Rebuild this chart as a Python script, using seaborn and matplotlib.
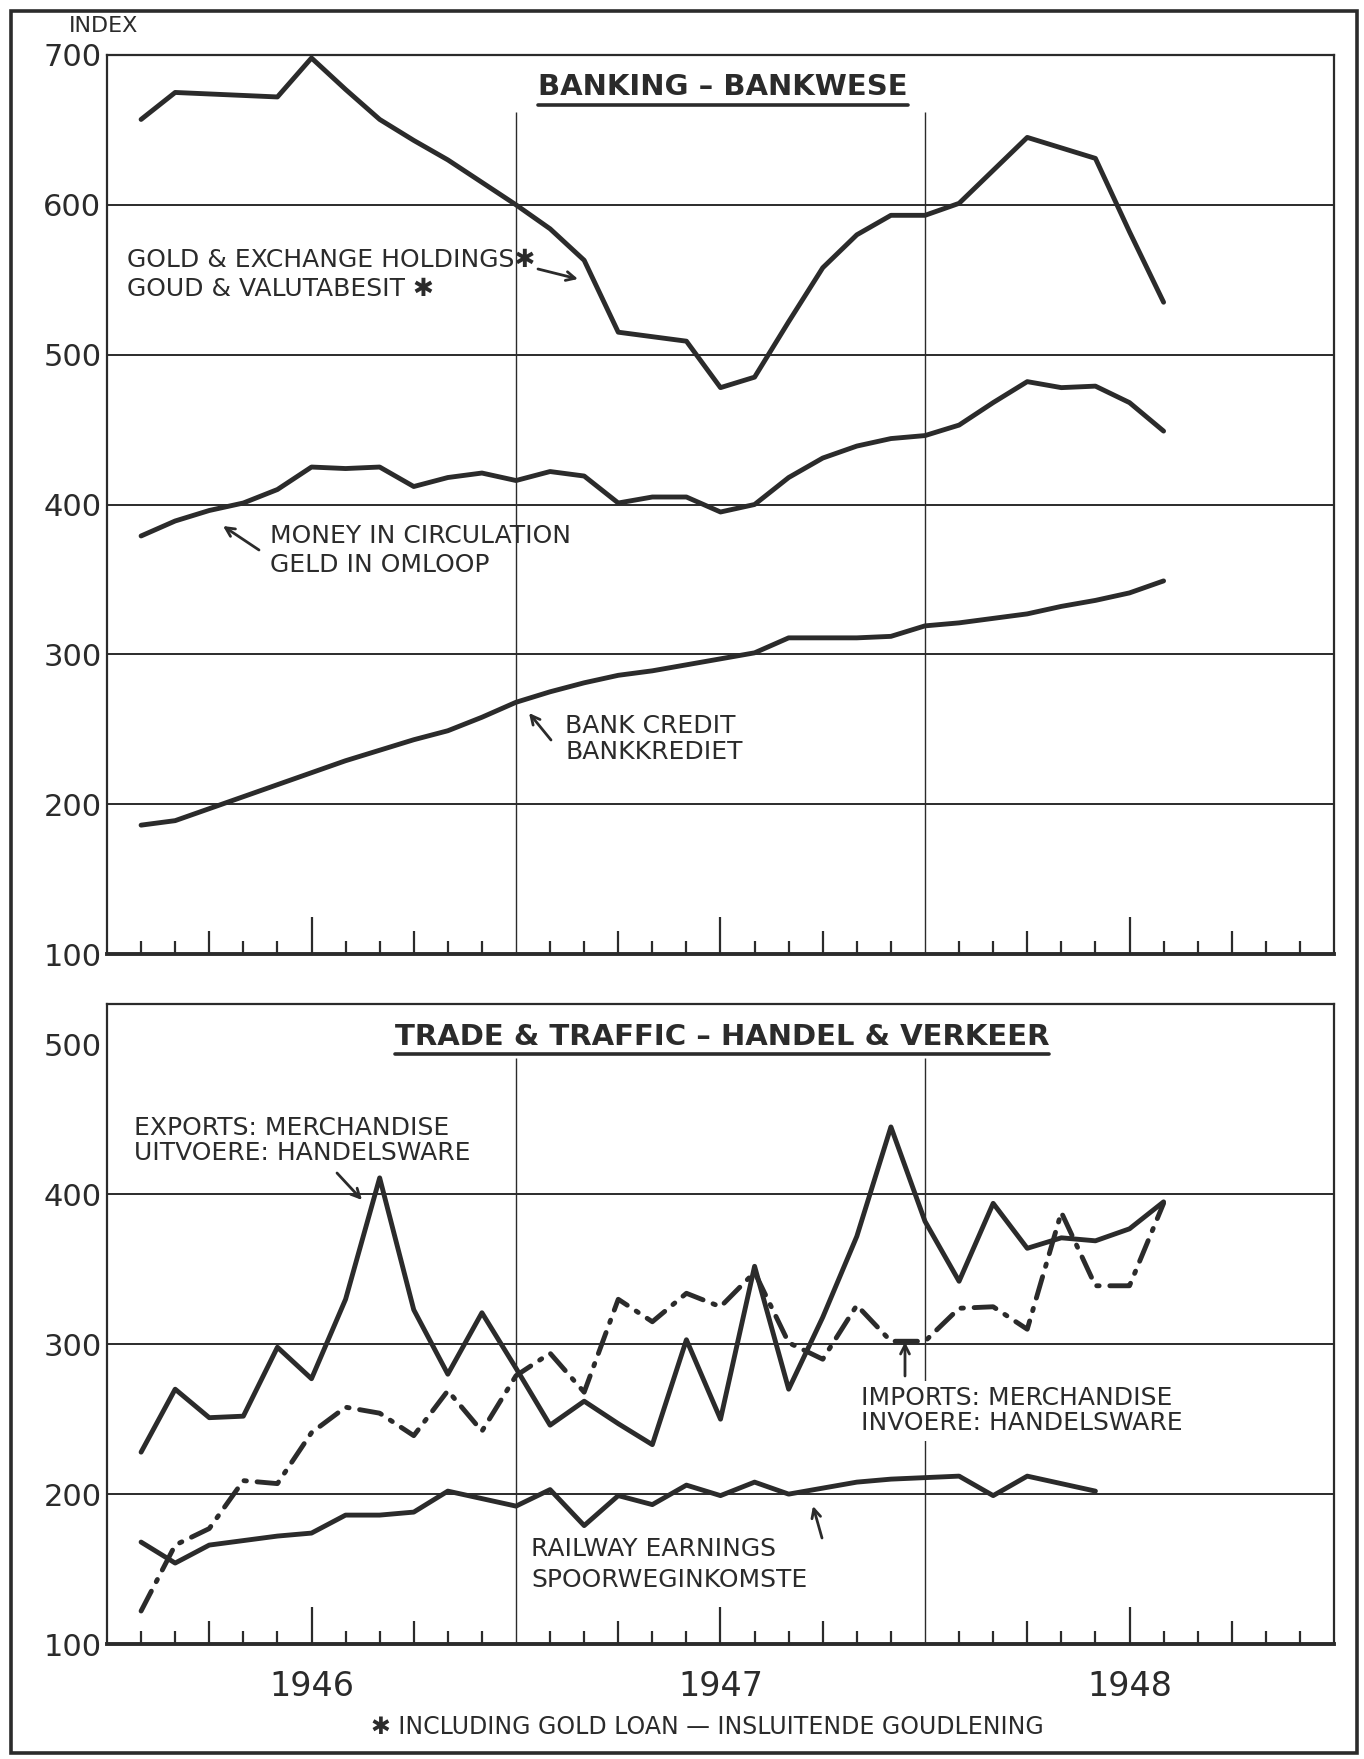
import seaborn as sns
import matplotlib.pyplot as plt
import pandas as pd
from matplotlib.ticker import FixedLocator, NullFormatter
from matplotlib.lines import Line2D
from matplotlib.patches import Rectangle, FancyArrowPatch

# month index: 0 = start of 1946, 12 = start of 1947, 24 = start of 1948
months_bank = list(range(1, 32))
gold_exchange = [657, 675, 674, 673, 672, 698, 677, 657, 643, 630, 615, 600, 584, 563, 515, 512,
                 509, 478, 485, 522, 558, 580, 593, 593, 601, 623, 645, 638, 631, 582, 535]
money_circulation = [379, 389, 396, 401, 410, 425, 424, 425, 412, 418, 421, 416, 422, 419, 401, 405,
                     405, 395, 400, 418, 431, 439, 444, 446, 453, 468, 482, 478, 479, 468, 449]
bank_credit = [186, 189, 197, 205, 213, 221, 229, 236, 243, 249, 258, 268, 275, 281, 286, 289,
               293, 297, 301, 311, 311, 311, 312, 319, 321, 324, 327, 332, 336, 341, 349]

months_trade = list(range(1, 32))
exports = [228, 270, 251, 252, 298, 277, 330, 411, 323, 280, 321, 284, 246, 262, 247, 233,
           303, 250, 352, 270, 318, 372, 445, 382, 342, 394, 364, 371, 369, 377, 395]
imports = [122, 166, 177, 209, 207, 241, 258, 254, 239, 269, 242, 279, 294, 268, 330, 315,
           334, 325, 348, 301, 290, 326, 302, 302, 324, 325, 310, 388, 339, 339, 394]
months_rail = list(range(1, 30))
railway = [168, 154, 166, 169, 172, 174, 186, 186, 188, 202, 197, 192, 203, 179, 199, 193,
           206, 199, 208, 200, 204, 208, 210, 211, 212, 199, 212, 207, 202]

year_labels = ["1946", "1947", "1948"]
year_mid = [6, 18, 30]
year_breaks = [12, 24]
quarter_ticks = [3, 9, 15, 21, 27, 33]
month_ticks = [m for m in range(1, 36) if m % 3]

W, H = 1364, 1759
ink = "#2b2b2b"


def fx(px):
    return px / W


def fy(py):
    return 1 - py / H


def box(left, top, right, bottom):
    return [left / W, 1 - bottom / H, (right - left) / W, (bottom - top) / H]


def style_axis(ax, labels):
    ax.set_xlim(0, 36)
    ax.set_xlabel("")
    ax.set_ylabel("")
    ax.xaxis.set_major_locator(FixedLocator(quarter_ticks))
    ax.xaxis.set_minor_locator(FixedLocator(month_ticks))
    ax.xaxis.set_major_formatter(NullFormatter())
    ax.tick_params(axis='x', which='major', direction='in', length=16.5, width=1.6,
                   color=ink, bottom=True, top=False)
    ax.tick_params(axis='x', which='minor', direction='in', length=9.4, width=1.6,
                   color=ink, bottom=True, top=False)
    ax.tick_params(axis='y', which='major', length=0, pad=4, labelsize=22, labelcolor=ink)
    for side in ['left', 'top', 'right']:
        ax.spines[side].set_linewidth(1.6)
        ax.spines[side].set_color(ink)
    ax.spines['bottom'].set_linewidth(2.8)
    ax.spines['bottom'].set_color(ink)

    sec = ax.secondary_xaxis('bottom')
    sec.set_xticks(year_mid)
    sec.set_xticklabels(labels, fontsize=24, color=ink)
    sec.tick_params(axis='x', direction='in', length=26.6, width=1.6, color=ink, pad=19)
    sec.spines['bottom'].set_visible(False)


sns.set_style("white")
plt.rcParams['font.family'] = 'DejaVu Sans'

fig = plt.figure(figsize=(W / 100, H / 100), dpi=100)
ax1 = fig.add_axes(box(107, 55, 1334, 954))
ax2 = fig.add_axes(box(107, 1004, 1334, 1644))

line_w = 3.5

# --- Banking panel ---
bank_df = pd.DataFrame({"month": months_bank, "gold": gold_exchange,
                        "money": money_circulation, "credit": bank_credit})
for col in ["gold", "money", "credit"]:
    sns.lineplot(data=bank_df, x="month", y=col, ax=ax1, color=ink, lw=line_w,
                 errorbar=None, legend=False)

ax1.set_ylim(100, 700)
ax1.set_yticks([100, 200, 300, 400, 500, 600, 700])
for v in [200, 300, 400, 500, 600]:
    ax1.axhline(v, color=ink, lw=1.4, zorder=0)
ax1.vlines(year_breaks, 100, 662, color=ink, lw=1.0, zorder=0)
style_axis(ax1, [])

# --- Trade panel ---
trade_df = pd.DataFrame({"month": months_trade, "exports": exports, "imports": imports})
rail_df = pd.DataFrame({"month": months_rail, "railway": railway})
sns.lineplot(data=trade_df, x="month", y="exports", ax=ax2, color=ink, lw=line_w,
             errorbar=None, legend=False)
sns.lineplot(data=trade_df, x="month", y="imports", ax=ax2, color=ink, lw=line_w,
             linestyle=(0, (4.6, 2.2, 0.5, 2.2)), dash_capstyle='round',
             errorbar=None, legend=False)
sns.lineplot(data=rail_df, x="month", y="railway", ax=ax2, color=ink, lw=line_w,
             errorbar=None, legend=False)

ax2.set_ylim(100, 527)
ax2.set_yticks([100, 200, 300, 400, 500])
for v in [200, 300, 400]:
    ax2.axhline(v, color=ink, lw=1.4, zorder=0)
ax2.vlines(year_breaks, 100, 491, color=ink, lw=1.0, zorder=0)
ax2.yaxis.set_minor_locator(FixedLocator([500]))
ax2.tick_params(axis='y', which='minor', direction='in', length=24, width=1.6,
                color=ink, left=True, right=True)
style_axis(ax2, year_labels)

# --- Texts ---
fig.text(fx(69), fy(26), "INDEX", fontsize=16, color=ink, va='center', ha='left')

t1 = fig.text(fx(723), fy(87), "BANKING – BANKWESE", fontsize=21, fontweight='bold',
              color=ink, ha='center', va='center')
t2 = fig.text(fx(722), fy(1037), "TRADE & TRAFFIC – HANDEL & VERKEER", fontsize=21,
              fontweight='bold', color=ink, ha='center', va='center')

label_kw = dict(fontsize=18, color=ink, ha='left', va='center')
fig.text(fx(127), fy(260), "GOLD & EXCHANGE HOLDINGS✱", **label_kw)
fig.text(fx(127), fy(289), "GOUD & VALUTABESIT ✱", **label_kw)
fig.text(fx(270), fy(536), "MONEY IN CIRCULATION", **label_kw)
fig.text(fx(270), fy(565), "GELD IN OMLOOP", **label_kw)
fig.text(fx(565), fy(726), "BANK CREDIT", **label_kw)
fig.text(fx(565), fy(752), "BANKKREDIET", **label_kw)
fig.text(fx(134), fy(1128), "EXPORTS: MERCHANDISE", **label_kw)
fig.text(fx(134), fy(1153), "UITVOERE: HANDELSWARE", **label_kw)
white = dict(facecolor='white', edgecolor='none', pad=4)
fig.text(fx(861), fy(1398), "IMPORTS: MERCHANDISE", bbox=white, **label_kw)
fig.text(fx(861), fy(1423), "INVOERE: HANDELSWARE", bbox=white, **label_kw)
fig.text(fx(531), fy(1549), "RAILWAY EARNINGS", **label_kw)
fig.text(fx(531), fy(1580), "SPOORWEGINKOMSTE", **label_kw)

fig.text(fx(707), fy(1727), "✱ INCLUDING GOLD LOAN — INSLUITENDE GOUDLENING",
         fontsize=17, color=ink, ha='center', va='center')

# pointer arrows (tail, head) in figure pixels
arrows = [((538, 269), (578, 279)), ((259, 550), (223, 526)), ((551, 740), (529, 713)),
          ((337, 1173), (362, 1200)), ((905, 1376), (905, 1342)), ((822, 1538), (813, 1506))]
for (x0, y0), (x1, y1) in arrows:
    fig.add_artist(FancyArrowPatch((fx(x0), fy(y0)), (fx(x1), fy(y1)),
                                   transform=fig.transFigure, arrowstyle='->',
                                   mutation_scale=16, lw=2.0, color=ink,
                                   shrinkA=0, shrinkB=0))

# underline the panel titles
fig.canvas.draw()
renderer = fig.canvas.get_renderer()
for t, uy in [(t1, 105), (t2, 1054)]:
    bb = t.get_window_extent(renderer)
    fig.add_artist(Line2D([bb.x0 / W, bb.x1 / W], [fy(uy), fy(uy)],
                          transform=fig.transFigure, lw=2.6, color=ink))

# outer frame
fig.add_artist(Rectangle((fx(11), fy(1753)), (1357 - 11) / W, (1753 - 11) / H,
                         transform=fig.transFigure, fill=False, lw=2.6, ec=ink))

fig.savefig("out.png", dpi=100, facecolor='white')
